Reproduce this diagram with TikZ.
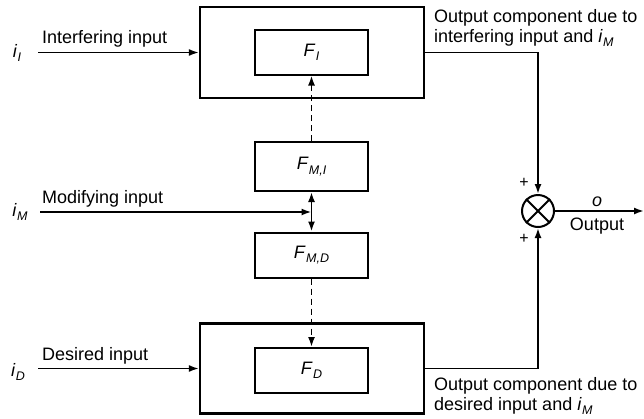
\documentclass[tikz,border=0pt]{standalone}
\usepackage{fontspec}
\setmainfont{Liberation Sans}
\usetikzlibrary{arrows.meta,calc}
\newcommand\mysub[2]{\textit{#1}\kern0.3pt\raisebox{-0.45ex}{\fontsize{12.5}{13}\selectfont\textit{#2}}}
\begin{document}
\begin{tikzpicture}[x=1pt,y=-1pt, font=\fontsize{18}{20}\selectfont,
  box/.style={draw, line width=2pt, minimum width=113pt, minimum height=45pt, inner sep=0pt},
  outer/.style={draw, line width=2.2pt, minimum width=224pt, minimum height=91pt, inner sep=0pt},
  conn/.style={line width=1.8pt, -{Latex[length=10pt,width=7pt]}},
  dconn/.style={conn, dash pattern=on 6pt off 4pt},
  lbl/.style={anchor=base west, inner sep=0pt},
  plus/.style={font=\fontsize{16}{16}\selectfont, inner sep=0pt}]
\useasboundingbox (0,0) rectangle (644,418);
% blocks
\node[outer] (top) at (312,52.5) {};
\node[box] (fi) at (311.5,52) {\mysub{F}{I}};
\node[box, minimum height=49pt] (fmi) at (311.5,166.5) {\mysub{F}{M,I}};
\node[box] (fmd) at (311.5,255) {\mysub{F}{M,D}};
\node[outer, minimum height=90pt] (bot) at (312,368.5) {};
\node[box] (fd) at (311.5,370.5) {\mysub{F}{D}};
\node[draw, circle, line width=2pt, minimum size=32pt, inner sep=0pt] (sum) at (538,211) {};
\draw[line width=1.8pt] (sum.north west) -- (sum.south east) (sum.north east) -- (sum.south west);
% inputs
\node (lii) at (17,53) {\mysub{i}{I}};
\coordinate (ii) at (38,52.5);
\draw[conn] (ii) -- (top.west);
\node[lbl] (tii) at (42,43) {Interfering input};
\node (lim) at (20,212) {\mysub{i}{M}};
\coordinate (im) at (40,212);
\draw[conn] (im) -- (im -| fmi.south);
\node[lbl] (tim) at (42,203) {Modifying input};
\node (lid) at (18,372) {\mysub{i}{D}};
\coordinate (id) at (38,368.5);
\draw[conn] (id) -- (bot.west);
\node[lbl] (tid) at (42,360) {Desired input};
% internal connections
\draw[dconn] (fmi.north) -- (fi.south);
\draw[dconn] (fmd.south) -- (fd.north);
\draw[line width=1.8pt, {Latex[length=10pt,width=7pt]}-{Latex[length=10pt,width=7pt]}] (fmi.south) -- (fmd.north);
% outputs
\draw[conn] (top.east) -| (sum.north);
\draw[conn] (bot.east) -| (sum.south);
\coordinate (oend) at (644,211);
\draw[conn] (sum.east) -- (oend);
\node[plus] (p1) at (524,183) {+};
\node[plus] (p2) at (524,239) {+};
\node (o) at (597,202) {\textit{o}};
\node (out) at (597,226) {Output};
\node[lbl] (t1a) at (434,22) {Output component due to};
\node[lbl] (t1b) at (434,42) {interfering input and \mysub{i}{M}};
\node[lbl] (t2a) at (434,390) {Output component due to};
\node[lbl] (t2b) at (434,410) {desired input and \mysub{i}{M}};
\end{tikzpicture}
\end{document}
